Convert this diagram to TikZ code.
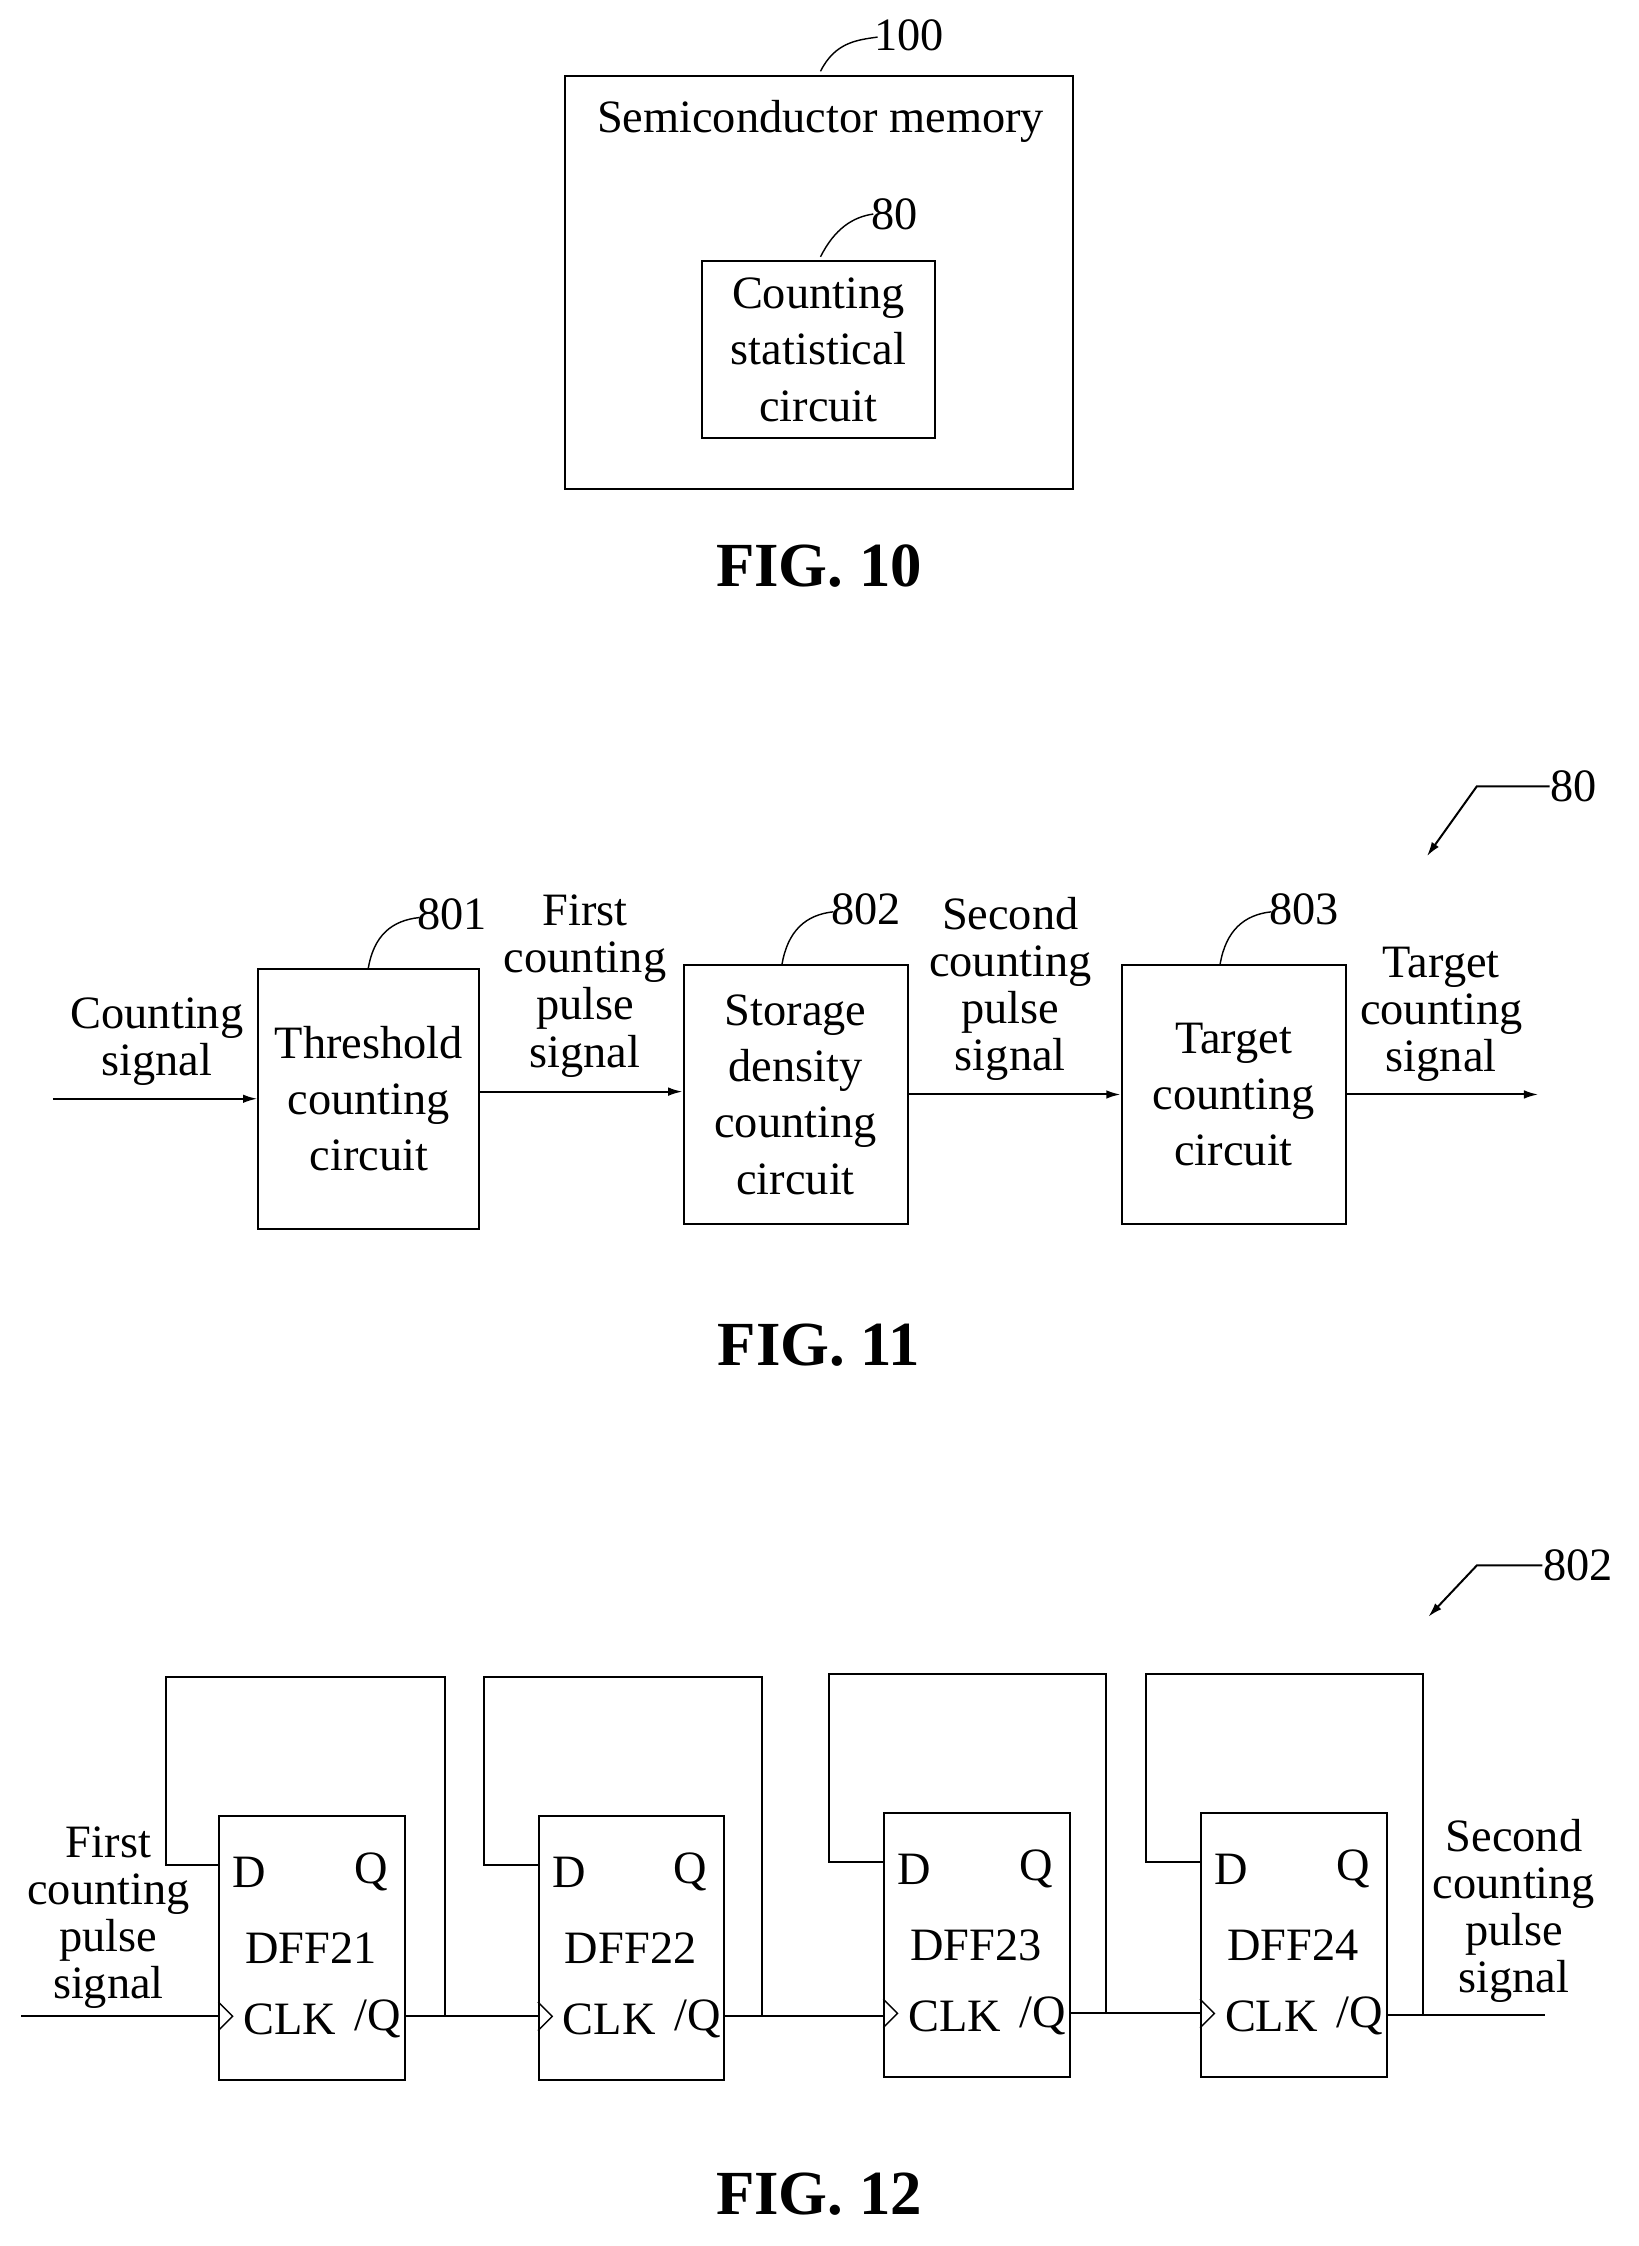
\documentclass[tikz,border=0pt]{standalone}
\usepackage{fontspec}
\usetikzlibrary{arrows.meta}
\setmainfont{Liberation Serif}
\begin{document}
\begin{tikzpicture}[x=1pt,y=-1pt,line width=1.4pt,
 box/.style={draw,line width=1.4pt},
 bt/.style={align=center,font=\fontsize{32.5}{39.5}\selectfont,inner sep=0},
 lt/.style={align=center,font=\fontsize{32.5}{33}\selectfont,inner sep=0},
 ref/.style={font=\fontsize{32.5}{34}\selectfont,inner sep=0},
 fig/.style={font=\bfseries\fontsize{44}{48}\selectfont,inner sep=0},
 arr/.style={-{Latex[length=10pt,width=6pt]}}]
\useasboundingbox (0,0) rectangle (1148,1574);
% FIG 10
\draw[box] (396,53) rectangle (752,343);
\node[ref] (t100) at (575,85) {Semiconductor memory};
\node[ref] (r100) at (637,25) {100};
\draw[line width=1pt] (575,50) .. controls (585,30) and (600,28) .. (615,26);
\node[box,minimum width=163,minimum height=124] (b80) at (573.5,245) {};
\node[bt] at (b80) {Counting\\statistical\\circuit};
\node[ref] (r80a) at (627,150) {80};
\draw[line width=1pt] (575,180) .. controls (585,160) and (598,152) .. (612,150);
\node[fig] (f10) at (574,397) {FIG. 10};
% FIG 11
\node[box,minimum width=155,minimum height=182] (c801) at (258.5,770) {};
\node[bt] at (c801) {Threshold\\counting\\circuit};
\node[box,minimum width=157,minimum height=182] (c802) at (557.5,767) {};
\node[bt] at (c802) {Storage\\density\\counting\\circuit};
\node[box,minimum width=157,minimum height=182] (c803) at (864.5,767) {};
\node[bt] at (c803) {Target\\counting\\circuit};
\coordinate (in11) at (37,770);
\coordinate (out11) at (1078,767);
\draw[arr] (in11) -- (c801.west|-in11);
\draw[arr] (c801.east|-0,765) -- (c802.west|-0,765);
\draw[arr] (c802.east|-0,767) -- (c803.west|-0,767);
\draw[arr] (c803.east|-out11) -- (out11);
\node[lt] at (110,730) {Counting\\signal};
\node[lt] at (410,691) {First\\counting\\pulse\\signal};
\node[lt] at (708,693) {Second\\counting\\pulse\\signal};
\node[lt] at (1010,711) {Target\\counting\\signal};
\node[ref] (r801) at (317,641) {801};
\draw[line width=1pt] (258,679) .. controls (262,655) and (275,645) .. (294,643);
\node[ref] (r802) at (607,637) {802};
\draw[line width=1pt] (548,676) .. controls (552,652) and (565,641) .. (584,639);
\node[ref] (r803) at (914,637) {803};
\draw[line width=1pt] (855,676) .. controls (859,652) and (872,641) .. (891,639);
\node[ref] (r80b) at (1103,551) {80};
\coordinate (a80) at (1000,600);
\draw[arr] (r80b.west) -- (1035,551) -- (a80);
\node[fig] (f11) at (574,943) {FIG. 11};
% FIG 12
\foreach \n/\x/\y in {21/153/1272,22/377/1272,23/619/1270,24/841/1270}{
 \node[box,minimum width=130,minimum height=185,anchor=north west] (d\n) at (\x,\y) {};
 \node[ref] at (\x+22,\y+40) {D};
 \node[ref] at (\x+107,\y+40) {Q};
 \node[ref] at (\x+65,\y+93) {DFF\n};
 \node[ref] at (\x+50,\y+143) {CLK};
 \node[ref] at (\x+112,\y+143) {/Q};
 \draw[line width=1pt] (\x,\y+131) -- (\x+10,\y+141) -- (\x,\y+151);
}
\coordinate (in12) at (15,1413);
\coordinate (out12) at (1083,1412);
\draw (in12) -- (d21.west|-in12);
\draw (d21.east|-0,1413) -- (d22.west|-0,1413);
\draw (d22.east|-0,1413) -- (d23.west|-0,1413);
\draw (d23.east|-0,1411) -- (d24.west|-0,1411);
\draw (d24.east|-out12) -- (out12);
\draw (312,1413) -- (312,1175) -- (116,1175) -- (116,1307) -- (d21.west|-0,1307);
\draw (534,1413) -- (534,1175) -- (339,1175) -- (339,1307) -- (d22.west|-0,1307);
\draw (775,1411) -- (775,1173) -- (581,1173) -- (581,1305) -- (d23.west|-0,1305);
\draw (997,1412) -- (997,1173) -- (803,1173) -- (803,1305) -- (d24.west|-0,1305);
\node[lt] at (76,1344) {First\\counting\\pulse\\signal};
\node[lt] at (1061,1339) {Second\\counting\\pulse\\signal};
\node[ref] (r802b) at (1106,1097) {802};
\coordinate (a802) at (1001,1133);
\draw[arr] (r802b.west) -- (1035,1097) -- (a802);
\node[fig] (f12) at (574,1538) {FIG. 12};
\end{tikzpicture}
\end{document}
